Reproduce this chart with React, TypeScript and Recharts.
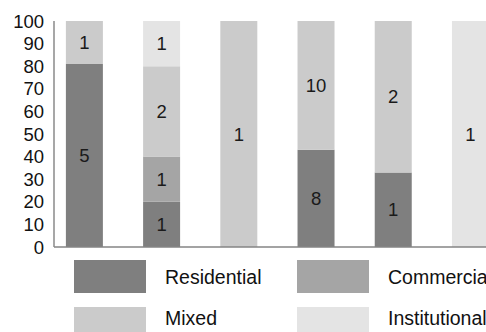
import { BarChart, Bar, XAxis, YAxis, LabelList } from "recharts";

// bar slots (no category labels shown in the chart)
const slots = [1, 2, 3, 4, 5, 6];

// share of each bar, in percent
const residentialPct = [81, 20, 0, 43, 33, 0];
const commercialPct = [0, 20, 0, 0, 0, 0];
const mixedPct = [19, 40, 100, 57, 67, 0];
const institutionalPct = [0, 20, 0, 0, 0, 100];

// counts printed inside the segments
const residentialCount = [5, 1, 0, 8, 1, 0];
const commercialCount = [0, 1, 0, 0, 0, 0];
const mixedCount = [1, 2, 1, 10, 2, 0];
const institutionalCount = [0, 1, 0, 0, 0, 1];

const seriesNames = ["Residential", "Commercial", "Mixed", "Institutional"];
const seriesColors = ["#7f7f7f", "#a5a5a5", "#cbcbcb", "#e4e4e4"];

const yTicks = [0, 10, 20, 30, 40, 50, 60, 70, 80, 90, 100];

const rows = slots.map((pos, i) => ({
  pos,
  residential: residentialPct[i],
  commercial: commercialPct[i],
  mixed: mixedPct[i],
  institutional: institutionalPct[i],
  residentialN: residentialCount[i],
  commercialN: commercialCount[i],
  mixedN: mixedCount[i],
  institutionalN: institutionalCount[i],
}));

const keys = ["residential", "commercial", "mixed", "institutional"];

const font = '"Liberation Sans", Arial, sans-serif';

function ChartLegend() {
  const cols = [74, 297];
  const swatchTop = [260, 307];
  const textTop = [267, 308];
  return (
    <>
      {seriesNames.map((name, i) => {
        const left = cols[i % 2];
        const r = Math.floor(i / 2);
        return (
          <div key={name}>
            <div
              style={{
                position: "absolute",
                left,
                top: swatchTop[r],
                width: 72,
                height: 33,
                background: seriesColors[i],
              }}
            />
            <div
              style={{
                position: "absolute",
                left: left + 91,
                top: textTop[r],
                fontSize: 19.5,
                lineHeight: "20px",
                color: "#111",
                whiteSpace: "nowrap",
              }}
            >
              {name}
            </div>
          </div>
        );
      })}
    </>
  );
}

export default function App() {
  return (
    <div
      style={{
        position: "absolute",
        left: 0,
        top: 0,
        width: 486,
        height: 332,
        overflow: "hidden",
        background: "#fff",
        fontFamily: font,
      }}
    >
      <BarChart
        width={486}
        height={332}
        data={rows}
        margin={{ top: 21, right: 0, bottom: 84, left: 0 }}
      >
        <XAxis
          type="number"
          dataKey="pos"
          domain={[0.605, 6.2]}
          allowDataOverflow
          tick={false}
          tickLine={false}
          height={1}
          axisLine={{ stroke: "#858585", strokeWidth: 1.5 }}
        />
        <YAxis
          domain={[0, 100]}
          ticks={yTicks}
          interval={0}
          width={54}
          tickLine={false}
          tickMargin={4}
          axisLine={{ stroke: "#8a8a8a", strokeWidth: 1.5 }}
          tick={{ fontSize: 18.5, fill: "#111", fontFamily: font }}
        />
        {keys.map((k, i) => (
          <Bar
            key={k}
            dataKey={k}
            stackId="a"
            fill={seriesColors[i]}
            barSize={37}
            isAnimationActive={false}
          >
            <LabelList
              dataKey={k + "N"}
              position="center"
              formatter={(v: any) => (v ? v : "")}
              fill="#1a1a1a"
              fontSize={18.5}
              fontFamily={font}
            />
          </Bar>
        ))}
      </BarChart>
      <ChartLegend />
    </div>
  );
}
